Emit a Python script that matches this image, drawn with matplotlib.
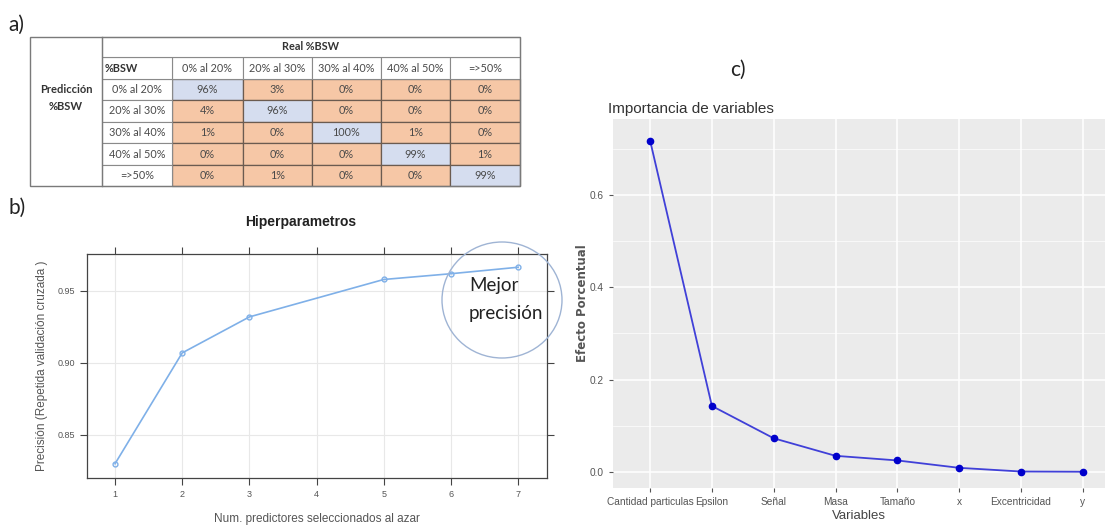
import numpy as np
import matplotlib.pyplot as plt
from matplotlib.patches import Rectangle, Ellipse

W, H = 1107, 529

# a) matriz de confusion
clases = ["0% al 20%", "20% al 30%", "30% al 40%", "40% al 50%", "=>50%"]
confusion = [[96, 3, 0, 0, 0],
             [4, 96, 0, 0, 0],
             [1, 0, 100, 1, 0],
             [0, 0, 0, 99, 1],
             [0, 1, 0, 0, 99]]

# b) hiperparametros
n_predictores = [1, 2, 3, 5, 6, 7]
precision = [0.830, 0.907, 0.932, 0.958, 0.962, 0.9665]

# c) importancia de variables
variables = ["Cantidad particulas", "Epsilon", "Señal", "Masa", "Tamaño",
             "x", "Excentricidad", "y"]
importancia = [0.718, 0.143, 0.073, 0.035, 0.025, 0.009, 0.001, 0.0005]

NARROW = ["Liberation Sans Narrow", "Liberation Sans", "DejaVu Sans"]
CALIBRI = ["Lato", "DejaVu Sans"]


def rect(l, t, r, b):
    # pixel box -> figure fraction
    return [l / W, 1 - b / H, (r - l) / W, (b - t) / H]


fig = plt.figure(figsize=(W / 100, H / 100), dpi=100)
fig.patch.set_facecolor("white")

# ---------------- a) tabla ----------------
ov = fig.add_axes([0, 0, 1, 1], zorder=5)
ov.set_xlim(0, W)
ov.set_ylim(H, 0)
ov.axis("off")

col_x = [30, 102, 172, 243, 312, 381, 450, 520]
row_y = [37, 57, 79, 100, 122, 143, 165, 186]
azul = "#d5ddef"
naranja = "#f6c7a6"
linea = "#6b5b50"
txt = "#4a4a4a"

for i, fila in enumerate(confusion):
    for j, v in enumerate(fila):
        x0, x1 = col_x[j + 2], col_x[j + 3]
        y0, y1 = row_y[i + 2], row_y[i + 3]
        ov.add_patch(Rectangle((x0, y0), x1 - x0, y1 - y0,
                               facecolor=azul if i == j else naranja,
                               edgecolor=linea, lw=0.9))
        ov.text((x0 + x1) / 2, (y0 + y1) / 2, f"{v}%", ha="center", va="center",
                fontsize=7.8, color=txt, family=CALIBRI)
    # row labels
    ov.add_patch(Rectangle((col_x[1], row_y[i + 2]), col_x[2] - col_x[1],
                           row_y[i + 3] - row_y[i + 2], facecolor="white",
                           edgecolor="#8a8a8a", lw=0.8))
    ov.text((col_x[1] + col_x[2]) / 2, (row_y[i + 2] + row_y[i + 3]) / 2, clases[i],
            ha="center", va="center", fontsize=7.8, color=txt, family=CALIBRI)

# header row
for j, c in enumerate(clases):
    x0, x1 = col_x[j + 2], col_x[j + 3]
    ov.add_patch(Rectangle((x0, row_y[1]), x1 - x0, row_y[2] - row_y[1],
                           facecolor="white", edgecolor="#8a8a8a", lw=0.8))
    ov.text((x0 + x1) / 2, (row_y[1] + row_y[2]) / 2, c, ha="center", va="center",
            fontsize=7.8, color=txt, family=CALIBRI)
ov.add_patch(Rectangle((col_x[1], row_y[1]), col_x[2] - col_x[1], row_y[2] - row_y[1],
                       facecolor="white", edgecolor="#8a8a8a", lw=0.8))
ov.text(col_x[1] + 3, (row_y[1] + row_y[2]) / 2, "%BSW", ha="left", va="center",
        fontsize=7.8, color="#333333", weight="bold", family=CALIBRI)
ov.add_patch(Rectangle((col_x[1], row_y[0]), col_x[-1] - col_x[1], row_y[1] - row_y[0],
                       facecolor="white", edgecolor="#8a8a8a", lw=0.8))
ov.text((col_x[1] + col_x[-1]) / 2, (row_y[0] + row_y[1]) / 2, "Real %BSW",
        ha="center", va="center", fontsize=7.8, color="#333333", weight="bold",
        family=CALIBRI)
ov.add_patch(Rectangle((col_x[0], row_y[0]), col_x[-1] - col_x[0], row_y[-1] - row_y[0],
                       facecolor="none", edgecolor="#7a7a7a", lw=1.0))
ov.plot([col_x[1], col_x[1]], [row_y[0], row_y[-1]], color="#7a7a7a", lw=1.0)
ov.text((col_x[0] + col_x[1]) / 2, 98, "Predicción\n%BSW", ha="center", va="center",
        fontsize=8, color="#333333", weight="bold", family=CALIBRI, linespacing=1.6)

ov.text(8, 25, "a)", fontsize=15, family=CALIBRI, va="center", color="#222222")
ov.text(8, 208, "b)", fontsize=15, family=CALIBRI, va="center", color="#222222")
ov.text(730, 70, "c)", fontsize=15, family=CALIBRI, va="center", color="#222222")

# ---------------- b) hiperparametros ----------------
axb = fig.add_axes(rect(87, 254, 547, 478))
axb.plot(n_predictores, precision, color="#7fb0e8", lw=1.2, marker="o",
         markersize=3.5, markerfacecolor="none", markeredgewidth=1.0)
axb.set_xlim(0.583, 7.43)
axb.set_ylim(0.8201, 0.9757)
axb.set_xticks(range(1, 8))
axb.set_yticks([0.85, 0.90, 0.95])
axb.set_yticklabels(["0.85", "0.90", "0.95"])
axb.grid(True, color="#e8e8e8", lw=0.8)
axb.set_axisbelow(True)
axb.tick_params(direction="out", length=5, width=0.8, colors="#444444",
                labelsize=6.5, labelcolor="#555555", top=True, right=True)
for s in axb.spines.values():
    s.set_color("#444444")
    s.set_linewidth(0.9)
for lab in axb.get_xticklabels() + axb.get_yticklabels():
    lab.set_family(NARROW)
axb.set_title("Hiperparametros", fontsize=10, weight="bold", color="#222222",
              family=NARROW, pad=20, x=0.464)
axb.set_xlabel("Num. predictores seleccionados al azar", fontsize=8.5,
               color="#555555", family=NARROW, labelpad=10)
axb.set_ylabel("Precisión (Repetida validación cruzada )", fontsize=8.5,
               color="#555555", family=NARROW, labelpad=7)

ov.add_patch(Ellipse((502, 300), 120, 116, facecolor="none",
                     edgecolor="#9fb4d4", lw=1.0))
ov.text(469, 285, "Mejor", fontsize=13.5, family=CALIBRI, color="#222222",
        va="center", ha="left")
ov.text(469, 314, "precisión", fontsize=13.5, family=CALIBRI, color="#222222",
        va="center", ha="left")

# ---------------- c) importancia ----------------
axc = fig.add_axes(rect(613, 119, 1105, 488))
xc = np.arange(1, len(variables) + 1)
axc.set_facecolor("#ebebeb")
axc.plot(xc, importancia, color="#4040d8", lw=1.3, marker="o", markersize=4.5,
         markerfacecolor="#0000cc", markeredgecolor="#0000cc")
axc.set_xlim(0.4, 8.36)
axc.set_ylim(-0.0347, 0.7646)
axc.set_xticks(xc)
axc.set_xticklabels(variables)
axc.set_yticks([0.0, 0.2, 0.4, 0.6])
axc.set_yticklabels(["0.0", "0.2", "0.4", "0.6"])
axc.set_yticks([0.1, 0.3, 0.5, 0.7], minor=True)
axc.grid(True, which="major", color="white", lw=1.1)
axc.grid(True, which="minor", axis="y", color="white", lw=0.5)
axc.set_axisbelow(True)
axc.tick_params(which="major", length=3, width=0.8, colors="#555555",
                labelsize=7.3, labelcolor="#555555")
axc.tick_params(which="minor", length=0)
for s in axc.spines.values():
    s.set_visible(False)
for lab in axc.get_xticklabels() + axc.get_yticklabels():
    lab.set_family(NARROW)
axc.set_title("Importancia de variables", loc="left", fontsize=11,
              color="#333333", family=NARROW, pad=4, x=-0.01)
axc.set_xlabel("Variables", fontsize=9.5, color="#444444", family=NARROW, labelpad=2)
axc.set_ylabel("Efecto Porcentual", fontsize=8.5, color="#555555",
               weight="bold", labelpad=1)

fig.savefig("out.png", dpi=100)
